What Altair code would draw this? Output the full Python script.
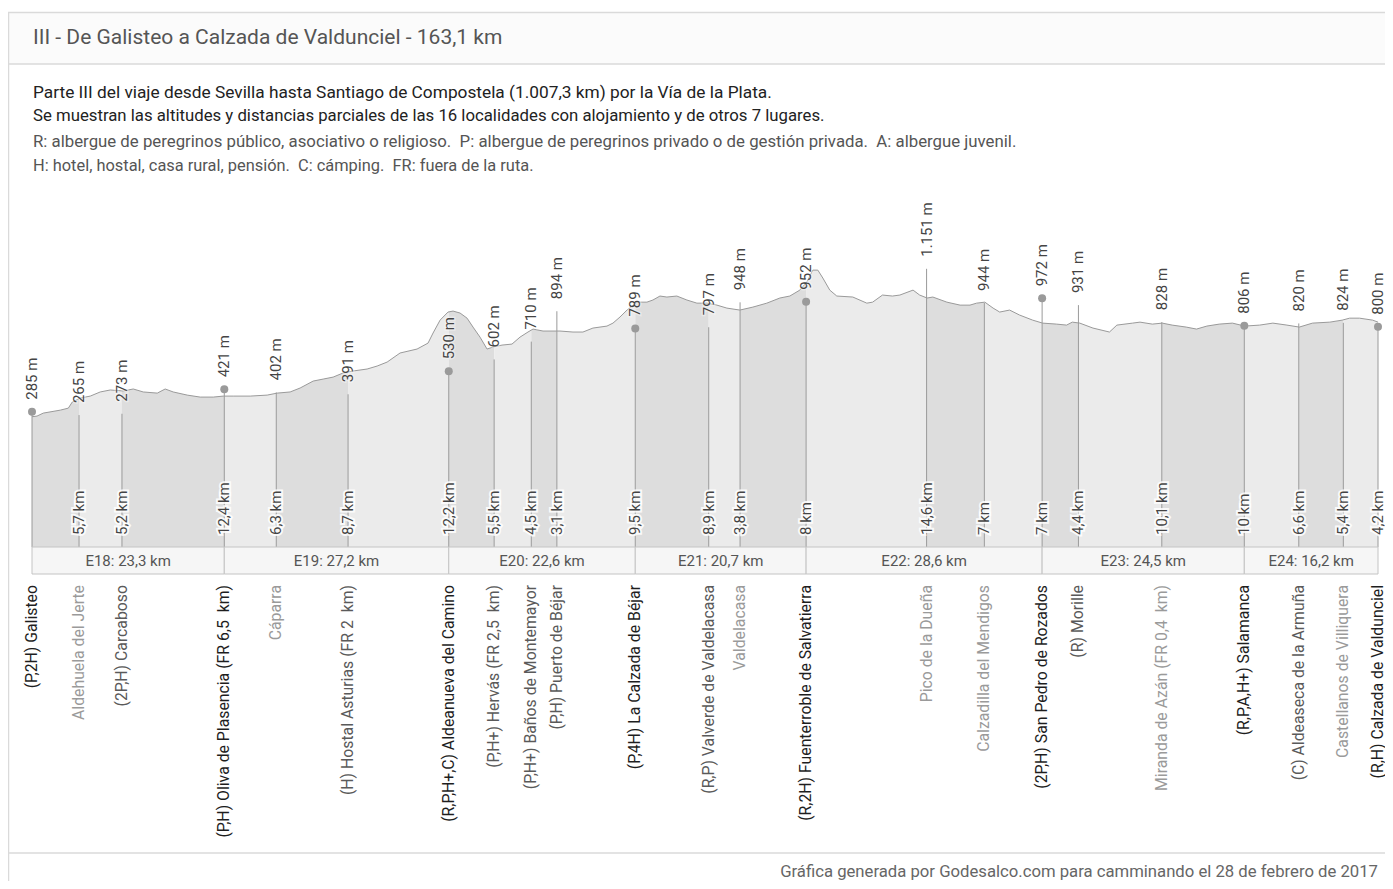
import altair as alt
import pandas as pd

# ---------------- texts ----------------
TITLE = "III - De Galisteo a Calzada de Valdunciel - 163,1 km"
DESC_LINES = [
    "Parte III del viaje desde Sevilla hasta Santiago de Compostela (1.007,3 km) por la Vía de la Plata.",
    "Se muestran las altitudes y distancias parciales de las 16 localidades con alojamiento y de otros 7 lugares.",
    "R: albergue de peregrinos público, asociativo o religioso.  P: albergue de peregrinos privado o de gestión privada.  A: albergue juvenil.",
    "H: hotel, hostal, casa rural, pensión.  C: cámping.  FR: fuera de la ruta.",
]
FOOTER = "Gráfica generada por Godesalco.com para camminando el 28 de febrero de 2017"

# ---------------- localities ----------------
place_names = [
    "(P,2H) Galisteo", "Aldehuela del Jerte", "(2P,H) Carcaboso",
    "(P,H) Oliva de Plasencia (FR 6,5  km)", "Cáparra", "(H) Hostal Asturias (FR 2  km)",
    "(R,P,H+,C) Aldeanueva del Camino", "(P,H+) Hervás (FR 2,5  km)", "(P,H+) Baños de Montemayor",
    "(P,H) Puerto de Béjar", "(P,4H) La Calzada de Béjar", "(R,P) Valverde de Valdelacasa",
    "Valdelacasa", "(R,2H) Fuenterroble de Salvatierra", "Pico de la Dueña",
    "Calzadilla del Mendigos", "(2P,H) San Pedro de Rozados", "(R) Morille",
    "Miranda de Azán (FR 0,4  km)", "(R,P,A,H+) Salamanca", "(C) Aldeaseca de la Armuña",
    "Castellanos de Villiquera", "(R,H) Calzada de Valdunciel",
]
place_alt_m = [285, 265, 273, 421, 402, 391, 530, 602, 710, 894, 789, 797,
               948, 952, 1151, 944, 972, 931, 828, 806, 820, 824, 800]
place_partial_km = [0, 5.7, 5.2, 12.4, 6.3, 8.7, 12.2, 5.5, 4.5, 3.1, 9.5, 8.9,
                    3.8, 8, 14.6, 7, 7, 4.4, 10.1, 10, 6.6, 5.4, 4.2]
place_kind = ["stage", "other", "lodging", "stage", "other", "lodging", "stage",
              "lodging", "lodging", "lodging", "stage", "lodging", "other", "stage",
              "other", "other", "stage", "lodging", "other", "stage", "lodging",
              "other", "stage"]

# ---------------- stages ----------------
stage_labels = ["E18: 23,3 km", "E19: 27,2 km", "E20: 22,6 km", "E21: 20,7 km",
                "E22: 28,6 km", "E23: 24,5 km", "E24: 16,2 km"]
stage_km = [23.3, 27.2, 22.6, 20.7, 28.6, 24.5, 16.2]

# ---------------- elevation profile ----------------
profile_km = [
    0, 0.61, 1.37, 3.43, 4.40, 4.88, 5.85, 7.06, 8.27, 9.48,
    11.06, 12.27, 13.48, 15.18, 16.14, 17.11, 18.81, 20.38, 21.96, 23.17,
    24.38, 26.44, 28.50, 29.71, 31.28, 32.49, 34.07, 35.28, 36.49, 37.70,
    38.91, 40.61, 41.82, 43.03, 44.60, 46.66, 47.99, 48.60, 49.45, 50.41,
    51.02, 51.87, 52.72, 53.44, 54.29, 55.14, 55.86, 56.95, 58.16, 59.13,
    60.10, 60.71, 61.92, 63.98, 65.55, 66.76, 67.97, 69.67, 70.40, 71.25,
    72.10, 73.30, 74.51, 75.24, 76.09, 76.93, 78.14, 79.35, 80.57, 81.78,
    82.99, 84.20, 85.77, 87.35, 89.04, 90.62, 91.83, 93.04, 93.89, 94.61,
    95.22, 95.83, 96.67, 97.52, 99.46, 101.16, 101.86, 103.06, 104.26, 105.16,
    106.76, 107.56, 108.46, 109.16, 110.86, 112.46, 113.66, 114.46, 115.46, 116.46,
    117.26, 118.46, 119.66, 121.26, 122.46, 124.16, 125.36, 126.06, 126.96, 128.56,
    130.56, 131.46, 133.36, 134.26, 135.76, 136.96, 138.16, 139.86, 141.11, 142.36,
    143.86, 145.46, 146.96, 148.76, 150.36, 152.06, 153.56, 155.16, 157.26, 158.76,
    159.66, 160.86, 162.46, 163.1,
]
profile_alt = [
    255, 259, 277, 295, 307, 344, 368, 380, 405, 417,
    411, 423, 405, 398, 423, 405, 386, 374, 374, 380,
    380, 380, 386, 398, 405, 429, 471, 483, 495, 520,
    532, 544, 562, 586, 641, 665, 701, 762, 840, 889,
    895, 883, 852, 798, 737, 665, 677, 689, 695, 737,
    768, 786, 774, 774, 768, 768, 792, 804, 822, 859,
    901, 949, 949, 962, 986, 980, 986, 962, 943, 943,
    931, 913, 901, 919, 943, 974, 986, 1022, 1071, 1143,
    1143, 1095, 1022, 986, 980, 943, 949, 992, 986, 992,
    1022, 992, 974, 980, 949, 931, 931, 943, 949, 913,
    889, 901, 871, 840, 822, 816, 810, 828, 822, 792,
    768, 810, 822, 828, 816, 822, 810, 798, 786, 804,
    816, 822, 804, 810, 822, 810, 798, 822, 828, 840,
    852, 852, 840, 828,
]

# ---------------- layout constants ----------------
W, H = 1346, 352
PAD = {"left": 24, "top": 187, "right": 7, "bottom": 334}
Y_MIN, Y_MAX = -534, 1598
FONT = "Roboto"


def keep_spaces(s):
    # keep the double spaces of the original labels visible in SVG
    return s.replace("  ", " \u00a0")


# ---------------- tables ----------------
places = pd.DataFrame({
    "name": [keep_spaces(n) for n in place_names], "alt": place_alt_m,
    "part": place_partial_km, "kind": place_kind,
})
places["km"] = places["part"].cumsum().round(2)
TOTAL_KM = float(places["km"].iloc[-1])
places["alt_label"] = [f"{v:,}".replace(",", ".") + " m" for v in place_alt_m]
places["km_label"] = [f"{v:g}".replace(".", ",") + " km" for v in place_partial_km]
name_colors = {"stage": "#1e1e1e", "lodging": "#5a5a5a", "other": "#9a9a9a"}
places["ncolor"] = places["kind"].map(name_colors)

segs = pd.DataFrame({
    "start": places["km"].iloc[:-1].values,
    "end": places["km"].iloc[1:].values,
})
segs["shade"] = ["a" if i % 2 == 0 else "b" for i in range(len(segs))]

stages = pd.DataFrame({"label": stage_labels, "len": stage_km})
stages["end"] = stages["len"].cumsum().round(2)
stages["start"] = stages["end"] - stages["len"]
stages["mid"] = (stages["start"] + stages["end"]) / 2

prof = pd.DataFrame({"km": profile_km, "alt": profile_alt})
one = pd.DataFrame({"k": [0]})

xs = alt.Scale(domain=[0, TOTAL_KM], nice=False, zero=False)
ys = alt.Scale(domain=[Y_MIN, Y_MAX], nice=False, zero=False)


def X(f):
    return alt.X(f, type="quantitative", scale=xs, axis=None)


def Y(f):
    return alt.Y(f, type="quantitative", scale=ys, axis=None)


layers = []
RIGHT = W + PAD["right"]

# card frame
layers.append(alt.Chart(one).mark_rect(color="#fbfbfb").encode(
    x=alt.value(-24), x2=alt.value(RIGHT), y=alt.value(-182), y2=alt.value(-131)))
for yv in [-182.5, -131, 658]:
    layers.append(alt.Chart(one).mark_rule(color="#dadada", strokeWidth=1.5).encode(
        x=alt.value(-24), x2=alt.value(RIGHT), y=alt.value(yv)))
layers.append(alt.Chart(one).mark_rule(color="#dadada", strokeWidth=1.5).encode(
    x=alt.value(-23.5), y=alt.value(-182.5), y2=alt.value(H + PAD["bottom"])))

# title / description / footer
layers.append(alt.Chart(pd.DataFrame({"t": [TITLE]})).mark_text(
    align="left", baseline="middle", fontSize=21, font=FONT, color="#555555").encode(
    x=alt.value(1), y=alt.value(-157), text="t:N"))
desc_df = pd.DataFrame({"t": [keep_spaces(s) for s in DESC_LINES], "row": [0, 1, 2, 3]})
desc_y = [-102, -79, -53, -29]
desc_c = ["#222222", "#222222", "#555555", "#555555"]
desc_fs = [17.3, 16.75, 16.8, 16.4]
for i in range(4):
    layers.append(alt.Chart(desc_df[desc_df.row == i]).mark_text(
        align="left", baseline="middle", fontSize=desc_fs[i], font=FONT, color=desc_c[i]).encode(
        x=alt.value(1), y=alt.value(desc_y[i]), text="t:N"))
layers.append(alt.Chart(pd.DataFrame({"t": [FOOTER]})).mark_text(
    align="right", baseline="middle", fontSize=16.7, font=FONT, color="#666666").encode(
    x=alt.value(W), y=alt.value(677), text="t:N"))

# stripes under the profile
layers.append(alt.Chart(segs).mark_rect(strokeWidth=0).encode(
    x=X("start"), x2="end", y=alt.value(0), y2=alt.value(H),
    color=alt.Color("shade:N", scale=alt.Scale(domain=["a", "b"], range=["#dddddd", "#ebebeb"]),
                    legend=None)))
# white above the profile
layers.append(alt.Chart(prof).mark_area(color="white", opacity=1).encode(
    x=X("km"), y=Y("alt"), y2=alt.datum(Y_MAX)))
# profile line
layers.append(alt.Chart(prof).mark_line(color="#9a9a9a", strokeWidth=1).encode(
    x=X("km"), y=Y("alt")))
# locality rules
layers.append(alt.Chart(places).mark_rule(color="#9a9a9a", strokeWidth=1).encode(
    x=X("km"), y=Y("alt"), y2=alt.value(H)))
# stage dots
layers.append(alt.Chart(places[places.kind == "stage"]).mark_circle(
    size=64, color="#9a9a9a", opacity=1).encode(x=X("km"), y=Y("alt")))
# altitude labels (halo + text)
layers.append(alt.Chart(places).mark_text(
    angle=270, align="left", baseline="middle", dx=12, fontSize=15, font=FONT,
    color="white", stroke="white", strokeWidth=3, strokeOpacity=0.6, opacity=0.6).encode(
    x=X("km"), y=Y("alt"), text="alt_label:N"))
layers.append(alt.Chart(places).mark_text(
    angle=270, align="left", baseline="middle", dx=12, fontSize=15, font=FONT,
    color="#444444").encode(x=X("km"), y=Y("alt"), text="alt_label:N"))
# partial distance labels (halo + text)
dist = places.iloc[1:]
layers.append(alt.Chart(dist).mark_text(
    angle=270, align="left", baseline="middle", fontSize=15, font=FONT,
    color="white", stroke="white", strokeWidth=4, strokeOpacity=0.85).encode(
    x=X("km"), y=alt.value(H - 12), text="km_label:N"))
layers.append(alt.Chart(dist).mark_text(
    angle=270, align="left", baseline="middle", fontSize=15, font=FONT,
    color="#444444").encode(x=X("km"), y=alt.value(H - 12), text="km_label:N"))
# stage band
layers.append(alt.Chart(stages).mark_rect(fill="#f6f6f6", stroke="#c4c4c4", strokeWidth=1).encode(
    x=X("start"), x2="end", y=alt.value(H), y2=alt.value(H + 27)))
layers.append(alt.Chart(stages).mark_text(
    align="center", baseline="middle", fontSize=15, font=FONT, color="#555555").encode(
    x=X("mid"), y=alt.value(H + 14), text="label:N"))
# locality names
layers.append(alt.Chart(places).mark_text(
    angle=270, align="right", baseline="middle", fontSize=15.8, font=FONT).encode(
    x=X("km"), y=alt.value(390), text="name:N",
    color=alt.Color("ncolor:N", scale=None)))

chart = alt.layer(*layers).properties(
    width=W, height=H, padding=PAD,
    autosize=alt.AutoSizeParams(type="none"),
    background="white",
).configure_view(stroke=None)

chart.save("out.html", embed_options={"renderer": "svg", "actions": False})
